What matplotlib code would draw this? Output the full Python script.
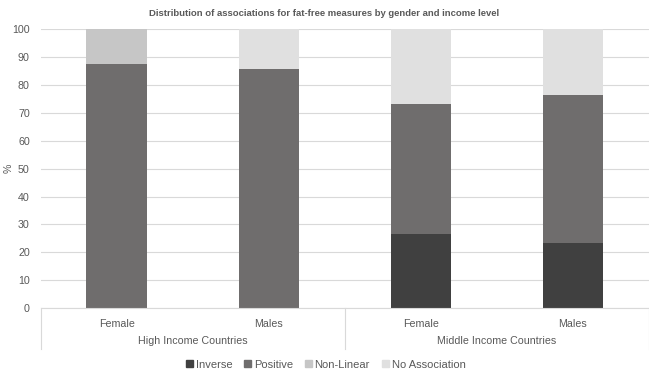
import numpy as np
import matplotlib.pyplot as plt
import matplotlib.transforms as mtransforms
from matplotlib.patches import Patch

plt.rcParams['font.family'] = ['Liberation Sans', 'DejaVu Sans']

# data
genders = ['Female', 'Males', 'Female', 'Males']
groups = ['High Income Countries', 'Middle Income Countries']
inverse = [0, 0, 26.7, 23.5]
positive = [87.5, 85.7, 46.6, 53.0]
non_linear = [12.5, 0, 0, 0]
no_assoc = [0, 14.3, 26.7, 23.5]

series = [('Inverse', inverse, '#404040'),
          ('Positive', positive, '#6f6d6d'),
          ('Non-Linear', non_linear, '#c6c6c6'),
          ('No Association', no_assoc, '#e0e0e0')]

fig = plt.figure(figsize=(6.49, 3.69), dpi=100)
ax = fig.add_axes([0.063, 0.165, 0.937, 0.756])

x = np.arange(len(genders))
bottom = np.zeros(len(genders))
for name, vals, col in series:
    ax.bar(x, vals, 0.4, bottom=bottom, color=col, label=name, zorder=2)
    bottom += np.array(vals)

ax.set_xlim(-0.5, len(genders) - 0.5)
ax.set_ylim(0, 100)
ax.set_yticks(range(0, 101, 10))
ax.grid(axis='y', color='#d9d9d9', linewidth=0.8, zorder=0)
for s in ['top', 'right', 'left']:
    ax.spines[s].set_visible(False)
ax.spines['bottom'].set_color('#d9d9d9')
ax.tick_params(axis='y', length=0, labelsize=7.7, labelcolor='#595959', pad=8)
ax.tick_params(axis='x', length=0, labelsize=7.7, labelcolor='#595959', pad=7.5)
ax.set_xticks(x)
ax.set_xticklabels(genders)
ax.set_ylabel('%', fontsize=7.7, color='#595959')
ax.yaxis.set_label_coords(-0.045, 0.5)

# group labels and separators
trans = mtransforms.blended_transform_factory(ax.transData, ax.transAxes)
for xs in [-0.5, 1.5, 3.5]:
    ax.plot([xs, xs], [0, -0.145], transform=trans, color='#d9d9d9',
            linewidth=0.8, clip_on=False)
for i, g in enumerate(groups):
    ax.text(2 * i + 0.5, -0.118, g, transform=trans, ha='center', va='center',
            fontsize=7.7, color='#595959')

fig.text(0.5, 0.963, 'Distribution of associations for fat-free measures by gender and income level',
         ha='center', va='center', fontsize=6.8, fontweight='bold', color='#595959')

handles = [Patch(color=c, label=n) for n, v, c in series]
fig.legend(handles=handles, loc='center', bbox_to_anchor=(0.502, 0.012), ncol=4,
           frameon=False, fontsize=8, labelcolor='#595959',
           handlelength=0.6, handleheight=0.6, handletextpad=0.25, columnspacing=1.1)

fig.savefig('out.png', dpi=100)
